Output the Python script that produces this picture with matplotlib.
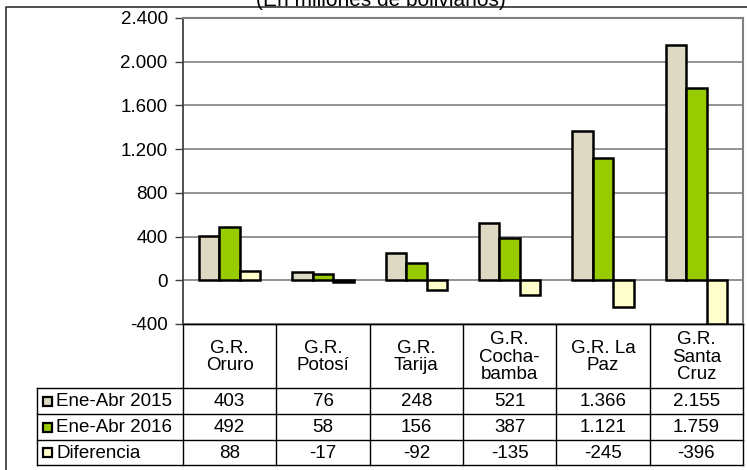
import matplotlib
matplotlib.use("Agg")
import matplotlib.pyplot as plt
from matplotlib.patches import Rectangle
import numpy as np

plt.rcParams['font.family'] = ['Liberation Sans', 'DejaVu Sans']

categories = ["G.R.\nOruro", "G.R.\nPotosí", "G.R.\nTarija", "G.R.\nCocha-\nbamba",
              "G.R. La\nPaz", "G.R.\nSanta\nCruz"]
series_names = ["Ene-Abr 2015", "Ene-Abr 2016", "Diferencia"]
v2015 = [403, 76, 248, 521, 1366, 2155]
v2016 = [492, 58, 156, 387, 1121, 1759]
vdif = [88, -17, -92, -135, -245, -396]
colors = ["#DDD9C3", "#99CC00", "#FFFFCC"]
yticks = [-400, 0, 400, 800, 1200, 1600, 2000, 2400]
title = "(En millones de bolivianos)"

W, H = 747, 470
fig = plt.figure(figsize=(W / 100, H / 100), dpi=100)

px_l, px_r, px_t, px_b = 183, 743, 18, 324
leg_l = 37
row_edges = [324, 388, 414, 440, 465]
fs = 13.5

ov = fig.add_axes([0, 0, 1, 1], zorder=0)
ov.set_xlim(0, W)
ov.set_ylim(H, 0)
ov.axis('off')

ax = fig.add_axes([px_l / W, 1 - px_b / H, (px_r - px_l) / W, (px_b - px_t) / H], zorder=1)
ax.patch.set_alpha(0)

n = len(categories)
x = np.arange(n)
bw = 0.22
series = [v2015, v2016, vdif]
for k, (vals, c) in enumerate(zip(series, colors)):
    ax.bar(x + (k - 1) * bw, vals, bw, color=c, edgecolor='black', linewidth=1.8, zorder=3)

ax.set_xlim(-0.5, n - 0.5)
ax.set_ylim(-400, 2400)
ax.set_yticks(yticks)
ax.set_yticklabels([f"{t:,}".replace(",", ".") for t in yticks], fontsize=fs)
ax.set_xticks([])
ax.grid(axis='y', color='#808080', linewidth=1.2, zorder=0)
ax.tick_params(axis='y', direction='out', length=6, width=1, color='#404040', pad=5)
ax.spines['left'].set_color('#404040')
ax.spines['left'].set_linewidth(1.3)
ax.spines['top'].set_color('#808080')
ax.spines['top'].set_linewidth(1.5)
ax.spines['right'].set_color('#808080')
ax.spines['right'].set_linewidth(1.5)
ax.spines['bottom'].set_color('black')
ax.spines['bottom'].set_linewidth(1.0)

ov.plot([6, 6, W + 5], [H + 5, 7, 7], color='#303030', linewidth=1.2)

ov.text(381, 6, title, fontsize=15, ha='center', va='baseline', color='black')

colw = (px_r - px_l) / n
col_edges = [px_l + i * colw for i in range(n + 1)]
lw = 1.0
for i, y in enumerate(row_edges):
    x0 = px_l if i == 0 else leg_l
    ov.plot([x0, px_r], [y, y], color='black', linewidth=lw)
for xe in col_edges:
    ov.plot([xe, xe], [row_edges[0], row_edges[-1]], color='black', linewidth=lw)
ov.plot([leg_l, leg_l], [row_edges[1], row_edges[-1]], color='black', linewidth=lw)

for i, cat in enumerate(categories):
    cx = (col_edges[i] + col_edges[i + 1]) / 2
    ov.text(cx, (row_edges[0] + row_edges[1]) / 2 + 1, cat, fontsize=fs, ha='center',
            va='center', linespacing=1.05)

for r, (name, vals, c) in enumerate(zip(series_names, series, colors)):
    cy = (row_edges[r + 1] + row_edges[r + 2]) / 2
    ov.add_patch(Rectangle((43, cy - 4.5), 9, 9, facecolor=c, edgecolor='black', linewidth=1.6))
    ov.text(56, cy + 1, name, fontsize=fs, ha='left', va='center')
    for i, v in enumerate(vals):
        cx = (col_edges[i] + col_edges[i + 1]) / 2
        ov.text(cx, cy + 1, f"{v:,}".replace(",", "."), fontsize=fs, ha='center', va='center')

fig.savefig("out.png", dpi=100)
